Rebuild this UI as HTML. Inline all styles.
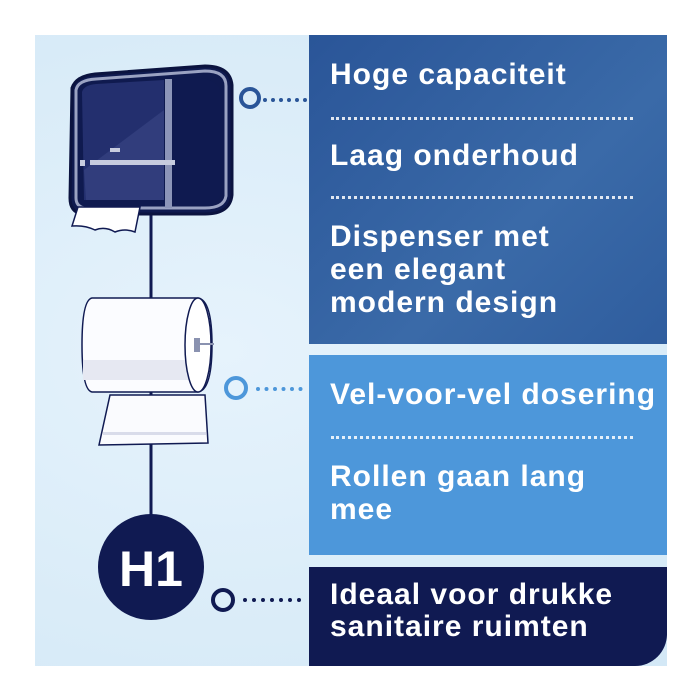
<!DOCTYPE html>
<html><head><meta charset="utf-8"><style>
body{margin:0;width:700px;height:700px;background:#fff;position:relative;overflow:hidden;font-family:"Liberation Sans",sans-serif}
.bg{position:absolute;left:35px;top:35px;width:632px;height:631px;background:radial-gradient(ellipse at 30% 50%,#e6f3fc,#d3e8f6)}
.p{position:absolute;left:309px;width:358px;color:#fff;font-weight:bold;font-size:30px;letter-spacing:1px}
.t{position:absolute;left:21px;white-space:nowrap;line-height:33px}
.d{position:absolute;left:22px;width:302px;border-top:3px dotted rgba(255,255,255,.85)}
</style></head><body>
<div class="bg"></div>
<div class="p" style="top:35px;height:309px;background:linear-gradient(135deg,#2a5598,#3a6aa8 60%,#2f5d9e)">
 <div class="t" style="top:23px">Hoge capaciteit</div>
 <div class="d" style="top:82px"></div>
 <div class="t" style="top:104px">Laag onderhoud</div>
 <div class="d" style="top:161px"></div>
 <div class="t" style="top:185px">Dispenser met<br>een elegant<br>modern design</div>
</div>
<div class="p" style="top:355px;height:200px;background:#4d97da">
 <div class="t" style="top:23px">Vel-voor-vel dosering</div>
 <div class="d" style="top:81px"></div>
 <div class="t" style="top:105px">Rollen gaan lang<br>mee</div>
</div>
<div class="p" style="top:567px;height:99px;background:#101a52;border-bottom-right-radius:32px">
 <div class="t" style="top:12px;line-height:32px">Ideaal voor drukke<br>sanitaire ruimten</div>
</div>
<svg width="700" height="700" style="position:absolute;left:0;top:0">
 <line x1="151" y1="200" x2="151" y2="520" stroke="#101a52" stroke-width="3"/>
 <!-- dispenser -->
 <path d="M72 88 Q76 76 95 74 L205 66 Q230 66 232 85 L232 195 Q230 214 205 214 L82 214 Q70 212 70 198 Z" fill="#0f1a4f" stroke="#0b133f" stroke-width="3"/>
 <path d="M76 90 Q78 80 96 79 L205 71 Q226 71 226 86 L226 196 Q224 208 205 208 L84 208 Q76 206 76 198 Z" fill="none" stroke="#9aa2c2" stroke-width="3"/>
 <path d="M82 92 Q84 85 96 84 L164 80 L164 200 L84 200 Z" fill="#232f6e"/>
 <path d="M84 170 L164 110 L164 200 L86 200 Z" fill="#3a4886" opacity=".6"/>
 <path d="M165 79 L172 79 L172 208 L165 208 Z" fill="#8c95b8"/>
 <path d="M174 78 Q215 74 220 90 L220 195 Q218 205 200 205 L174 205 Z" fill="#0f1a50"/>
 <rect x="90" y="160" width="85" height="5" fill="#c7ccdf"/>
 <rect x="80" y="160" width="5" height="6" fill="#c7ccdf"/>
 <rect x="110" y="148" width="10" height="4" fill="#c7ccdf"/>
 <path d="M78 207 L140 207 L135 232 Q125 228 115 232 Q105 226 95 230 Q85 225 72 226 Z" fill="#fff" stroke="#101a52" stroke-width="1.5"/>
 <!-- roll -->
 <path d="M99 445 L110 395 L205 395 L208 443 Z" fill="#fafbfe" stroke="#101a52" stroke-width="1.5"/>
 <rect x="103" y="432" width="103" height="3" fill="#d9dcea"/>
 <path d="M92 298 L198 298 Q212 300 212 345 Q212 390 198 392 L92 392 Q82 390 82 345 Q82 300 92 298 Z" fill="#fbfcff" stroke="#101a52" stroke-width="1.5"/>
 <rect x="83" y="360" width="115" height="20" fill="#e6e8f2"/>
 <ellipse cx="198" cy="345" rx="13" ry="47" fill="#fff" stroke="#101a52" stroke-width="1.5"/>
 <rect x="194" y="338" width="6" height="14" fill="#8a92b0"/>
 <line x1="198" y1="344" x2="214" y2="344" stroke="#8a92b0" stroke-width="2"/>
 <!-- H1 -->
 <circle cx="151" cy="567" r="53" fill="#101a52"/>
 <text x="151" y="586" text-anchor="middle" font-family="Liberation Sans" font-weight="bold" font-size="50" fill="#fff">H1</text>
 <!-- connectors -->
 <circle cx="250" cy="98" r="9" fill="none" stroke="#2a5598" stroke-width="4"/>
 <line x1="265" y1="100" x2="308" y2="100" stroke="#2a5598" stroke-width="4" stroke-dasharray="0 8" stroke-linecap="round"/>
 <circle cx="236" cy="388" r="10" fill="none" stroke="#4d97da" stroke-width="4"/>
 <line x1="258" y1="389" x2="308" y2="389" stroke="#4d97da" stroke-width="4" stroke-dasharray="0 8.5" stroke-linecap="round"/>
 <circle cx="223" cy="600" r="10" fill="none" stroke="#101a52" stroke-width="4"/>
 <line x1="245" y1="600" x2="308" y2="600" stroke="#101a52" stroke-width="4" stroke-dasharray="0 9" stroke-linecap="round"/>
</svg>
</body></html>
